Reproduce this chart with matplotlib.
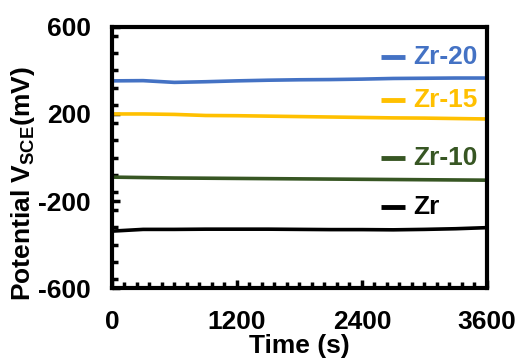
import numpy as np
import matplotlib
matplotlib.use("Agg")
import matplotlib.pyplot as plt
from matplotlib.ticker import MultipleLocator

plt.rcParams['font.family'] = ['Liberation Sans', 'DejaVu Sans']
plt.rcParams['font.weight'] = 'bold'
plt.rcParams['axes.unicode_minus'] = False
plt.rcParams['mathtext.fontset'] = 'custom'
plt.rcParams['mathtext.bf'] = 'Liberation Sans:bold'
plt.rcParams['mathtext.rm'] = 'Liberation Sans:bold'

# time points (s) and open circuit potentials (mV vs SCE)
time_s = [0, 300, 600, 900, 1200, 1500, 1800, 2100, 2400, 2700, 3000, 3300, 3600]
zr20 = [352, 353, 345, 348, 352, 355, 357, 358, 360, 363, 364, 365, 365]
zr15 = [200, 200, 198, 193, 192, 190, 188, 186, 184, 182, 181, 179, 177]
zr10 = [-90, -92, -94, -95, -96, -97, -98, -99, -100, -101, -102, -103, -104]
zr = [-338, -330, -330, -329, -329, -329, -330, -331, -331, -332, -330, -327, -322]

series = [
    ("Zr-20", zr20, "#4472C4", 462),
    ("Zr-15", zr15, "#FFC000", 264),
    ("Zr-10", zr10, "#375623", 0),
    ("Zr", zr, "#000000", -228),
]

fig, ax = plt.subplots(figsize=(5.18, 3.58), dpi=100)
fig.subplots_adjust(left=0.216, right=0.94, top=0.925, bottom=0.195)

for name, vals, color, label_y in series:
    ax.plot(time_s, vals, color=color, lw=2.6)
    ax.plot([2580, 2810], [label_y, label_y], color=color, lw=3.5, solid_capstyle='butt')
    ax.text(2890, label_y, name, color=color, fontsize=19, fontweight='bold', va='center')

ax.set_xlim(0, 3600)
ax.set_ylim(-600, 600)
ax.set_xticks([0, 1200, 2400, 3600])
ax.set_yticks([-600, -200, 200, 600])
ax.xaxis.set_minor_locator(MultipleLocator(120))
ax.yaxis.set_minor_locator(MultipleLocator(80))
ax.tick_params(which='both', direction='in', width=2.5, labelsize=19, top=False, right=False)
ax.tick_params(which='major', length=6)
ax.tick_params(which='minor', length=4)
ax.tick_params(axis='x', which='major', pad=16)
ax.tick_params(axis='y', which='major', pad=15)
for s in ax.spines.values():
    s.set_linewidth(3)

ax.set_xlabel("Time (s)", fontsize=19, fontweight='bold', labelpad=0)
ax.set_ylabel(r"Potential V$_{\mathbf{SCE}}$(mV)", fontsize=19, fontweight='bold')
ax.yaxis.set_label_coords(-0.20, 0.40)

fig.savefig("out.png", dpi=100)
